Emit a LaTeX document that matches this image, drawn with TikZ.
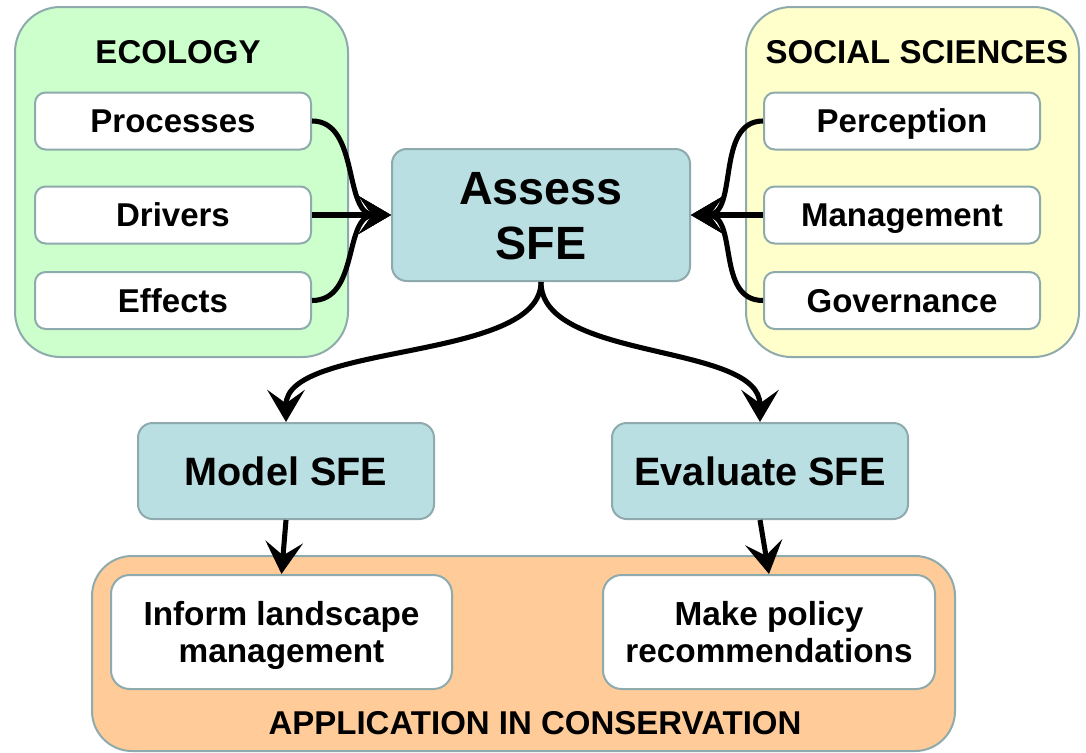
\documentclass[tikz,border=0pt]{standalone}
\usepackage{fontspec}
\setmainfont{Liberation Sans}
\usetikzlibrary{arrows.meta}
\definecolor{bordc}{HTML}{8FAAAC}
\definecolor{ecofill}{HTML}{CCFFCC}
\definecolor{socfill}{HTML}{FFFFCC}
\definecolor{appfill}{HTML}{FFCC99}
\definecolor{sfefill}{HTML}{B9DFE2}
\tikzset{
  basebox/.style={draw=bordc, line width=1.5pt, inner sep=0pt, align=center, text depth=0pt},
  groupbox/.style={basebox, rounded corners=34pt},
  itembox/.style={basebox, fill=white, rounded corners=8pt, minimum width={276*0.75pt}, minimum height={57*0.75pt}, text height=17.7pt, font=\fontsize{24.75}{29}\selectfont\bfseries},
  sfebox/.style={basebox, fill=sfefill, rounded corners=11pt, text height=21.3pt, font=\fontsize{29.7}{35}\selectfont\bfseries},
  appbox/.style={basebox, fill=white, rounded corners=14pt, minimum height={114*0.75pt}, text height=45.4pt, font=\fontsize{25}{27.5}\selectfont\bfseries},
  titletext/.style={inner sep=0pt, text height=17.7pt, text depth=0pt, font=\fontsize{24.75}{29}\selectfont\bfseries},
  arr/.style={line width=3.8pt, -{Stealth[length=24pt,width=28pt,inset=10pt]}}
}
\begin{document}
\begin{tikzpicture}[x=0.75pt,y=-0.75pt]
\useasboundingbox (0,0) rectangle (1086,753);
% groups
\node[groupbox, fill=ecofill, minimum width={333*0.75pt}, minimum height={350*0.75pt}] (eco) at (181.5,182) {};
\node[groupbox, fill=socfill, minimum width={333*0.75pt}, minimum height={350*0.75pt}] (soc) at (912.5,182) {};
\node[groupbox, fill=appfill, rounded corners=30pt, minimum width={863*0.75pt}, minimum height={195*0.75pt}] (app) at (523.5,653.5) {};
% titles
\node[titletext] (ecot) at (178,52) {ECOLOGY};
\node[titletext] (soct) at (917,52) {SOCIAL SCIENCES};
\node[titletext] (appt) at (535,723) {APPLICATION IN CONSERVATION};
% items
\node[itembox] (proc) at (173,121) {Processes};
\node[itembox] (driv) at (173,215) {Drivers};
\node[itembox] (effe) at (173,300.5) {Effects};
\node[itembox] (perc) at (902,121) {Perception};
\node[itembox] (mana) at (902,215) {Management};
\node[itembox] (gove) at (902,300.5) {Governance};
% SFE boxes
\node[sfebox, text height=66.3pt, font=\fontsize{35}{41.25}\selectfont\bfseries, minimum width={298*0.75pt}, minimum height={132*0.75pt}] (assess) at (541,215) {Assess\\SFE};
\node[sfebox, minimum width={296*0.75pt}, minimum height={96*0.75pt}] (model) at (286,471) {Model SFE};
\node[sfebox, minimum width={296*0.75pt}, minimum height={96*0.75pt}] (eval) at (760,471) {Evaluate SFE};
% application boxes
\node[appbox, minimum width={341*0.75pt}] (inform) at (281.5,632) {Inform landscape\\management};
\node[appbox, minimum width={332*0.75pt}] (policy) at (769,632) {Make policy\\recommendations};
% arrows
\draw[arr] (proc.east) .. controls +(48,0) and +(-48,0) .. (assess.west);
\draw[arr] (driv.east) -- (assess.west);
\draw[arr] (effe.east) .. controls +(48,0) and +(-48,0) .. (assess.west);
\draw[arr] (perc.west) .. controls +(-48,0) and +(48,0) .. (assess.east);
\draw[arr] (mana.west) -- (assess.east);
\draw[arr] (gove.west) .. controls +(-48,0) and +(48,0) .. (assess.east);
\draw[arr] (assess.south) .. controls +(0,80) and +(0,-80) .. (model.north);
\draw[arr] (assess.south) .. controls +(0,80) and +(0,-80) .. (eval.north);
\draw[arr] (model.south) -- (inform.north);
\draw[arr] (eval.south) -- (policy.north);
\end{tikzpicture}
\end{document}
